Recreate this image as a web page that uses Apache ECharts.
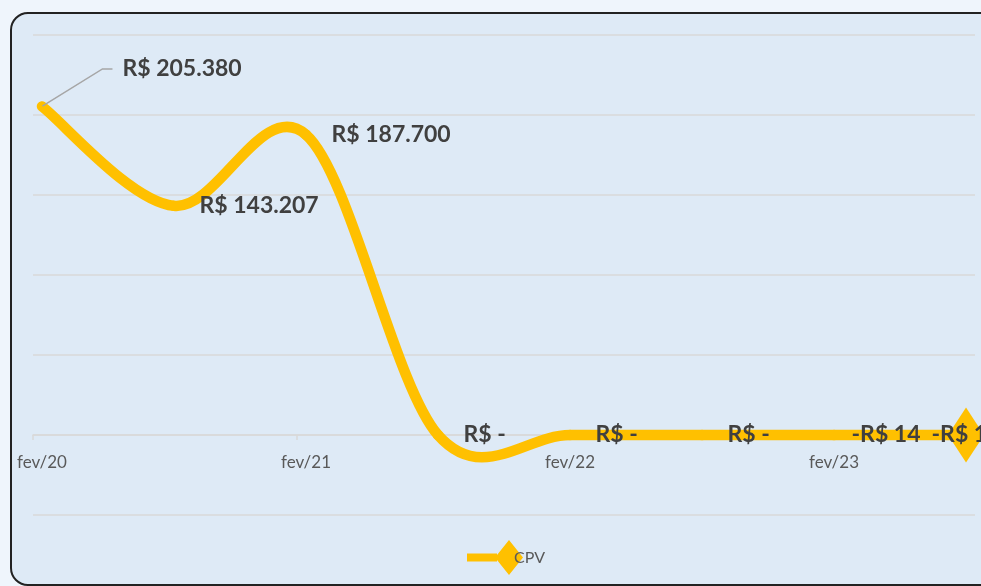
<!DOCTYPE html>
<html>
<head>
    <meta charset="utf-8">
    <title>CPV</title>
    <script src="https://cdn.jsdelivr.net/npm/echarts@6/dist/echarts.min.js"></script>
    <style>
        body { margin: 0; background: #EFF5FC; overflow: hidden; }
        #box { position: absolute; left: 10px; top: 12px; width: 1000px; height: 570px;
               background: #DEEAF6; border: 2px solid #222; border-radius: 18px; }
        #main { position: absolute; left: 0; top: 0; width: 981px; height: 586px; }
    </style>
</head>

<body>
<div id="box"></div>
<div id="main"></div>
<script type="text/javascript">
// semestres (so os de fevereiro aparecem no eixo)
var categorias = ['fev/20', 'ago/20', 'fev/21', 'ago/21', 'fev/22', 'ago/22', 'fev/23', 'ago/23'];
var cpv = [205380, 143207, 187700, 0, 0, 0, -14, -15];
var rotulosEixo = [0, 2, 4, 6];
var yTicks = [-50000, 0, 50000, 100000, 150000, 200000, 250000];

function moeda(v) {
    if (v === 0) return 'R$ -';
    var s = Math.abs(v).toString().replace(/\B(?=(\d{3})+(?!\d))/g, '.');
    return (v < 0 ? '-' : '') + 'R$ ' + s;
}

var pares = cpv.map(function (v, i) { return [i, v]; });

var dados = pares.map(function (p, i) {
    var item = { value: p };
    if (i === 0) {
        item.label = { padding: [0, 10, 0, 10], backgroundColor: 'rgba(0,0,0,0)' };
        item.labelLine = { show: true, length2: 10, lineStyle: { color: '#A6A6A6', width: 1.5 } };
    }
    if (i === 6) item.label = { distance: 17 };
    if (i === cpv.length - 1) {
        item.symbol = 'diamond';
        item.symbolSize = [36, 55];
        item.label = { position: 'inside' };
    }
    return item;
});

// curva suavizada estilo Excel (catmull-rom), pontos vindos de api.coord
function desenhaCurva(params, api) {
    if (params.dataIndex !== 0) return { type: 'group', children: [] };
    var pts = pares.map(function (p) { return api.coord(p); });
    var filhos = [];
    for (var i = 0; i < pts.length - 1; i++) {
        var p0 = pts[i - 1] || pts[i], p1 = pts[i], p2 = pts[i + 1], p3 = pts[i + 2] || pts[i + 1];
        filhos.push({
            type: 'bezierCurve',
            shape: {
                x1: p1[0], y1: p1[1], x2: p2[0], y2: p2[1],
                cpx1: p1[0] + (p2[0] - p0[0]) / 6, cpy1: p1[1] + (p2[1] - p0[1]) / 6,
                cpx2: p2[0] - (p3[0] - p1[0]) / 6, cpy2: p2[1] - (p3[1] - p1[1]) / 6
            },
            style: { stroke: '#FFC000', lineWidth: 10.5, fill: 'none', lineCap: 'round' }
        });
    }
    return { type: 'group', children: filhos };
}

var myChart = echarts.init(document.getElementById('main'));
var option = {
    backgroundColor: 'transparent',
    animation: false,
    grid: { left: 33, right: 6, top: 35, bottom: 71 },
    legend: {
        data: ['CPV'],
        left: 467,
        top: 540,
        padding: 0,
        icon: 'path://M0,13.5L30,13.5L30,21.5L0,21.5Z M42,0L56,17.5L42,35L28,17.5Z',
        itemWidth: 56,
        itemHeight: 35,
        itemStyle: { color: '#FFC000', borderWidth: 0 },
        textStyle: { color: '#595959', fontSize: 16, fontFamily: 'Lato', padding: [0, 0, 0, -14] }
    },
    xAxis: {
        type: 'value',
        min: -0.068,
        max: 7.068,
        splitLine: { show: false },
        axisLine: { onZero: true, lineStyle: { color: '#D9D9D9', width: 1.5 } },
        axisTick: {
            show: true,
            length: 5,
            customValues: [-0.068, 1.932, 3.932, 5.932],
            lineStyle: { color: '#D9D9D9', width: 1.5 }
        },
        axisLabel: {
            customValues: rotulosEixo,
            margin: -61,
            color: '#595959',
            fontSize: 17,
            fontFamily: 'Lato',
            formatter: function (v) { return categorias[Math.round(v)]; }
        }
    },
    yAxis: {
        type: 'value',
        min: yTicks[0],
        max: yTicks[yTicks.length - 1],
        interval: 50000,
        axisLabel: { show: false },
        axisLine: { show: false },
        axisTick: { show: false },
        splitLine: { lineStyle: { color: '#D9D9D9', width: 1.5 } }
    },
    series: [
        {
            name: 'curva',
            type: 'custom',
            z: 1,
            silent: true,
            renderItem: desenhaCurva,
            encode: { x: 0, y: 1 },
            data: pares
        },
        {
            name: 'CPV',
            type: 'line',
            z: 3,
            symbol: 'circle',
            symbolSize: 1,
            showAllSymbol: true,
            itemStyle: { color: '#FFC000' },
            lineStyle: { color: '#FFC000', width: 10, opacity: 0 },
            label: {
                show: true,
                position: 'right',
                distance: 25,
                color: '#404040',
                fontSize: 23,
                fontWeight: 'bold',
                fontFamily: 'Lato',
                formatter: function (p) { return moeda(p.value[1]); }
            },
            labelLayout: function (p) {
                if (p.dataIndex === 0) return { dx: 45, dy: -37.5 };
            },
            data: dados
        }
    ]
};
myChart.setOption(option);
window.onresize = function () {
    myChart.resize();
};
</script>
</body>
</html>
